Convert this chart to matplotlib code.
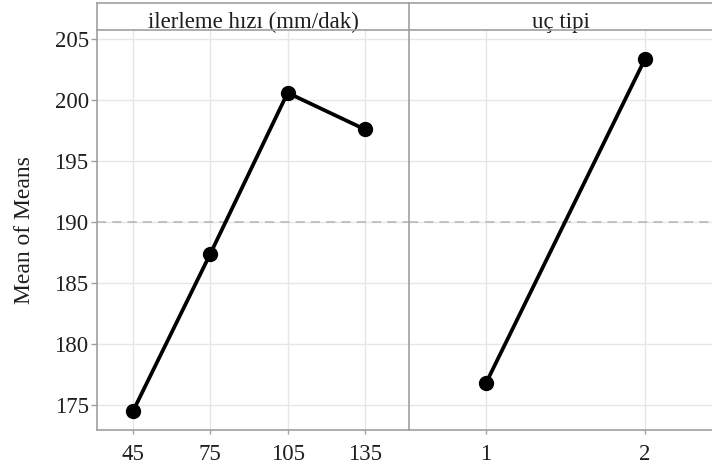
import matplotlib
matplotlib.use('Agg')
from matplotlib import pyplot as plt

# main effects data
feed_labels = ['45', '75', '105', '135']
feed_means = [174.5, 187.4, 200.6, 197.6]
tip_labels = ['1', '2']
tip_means = [176.8, 203.4]
panel_titles = ['ilerleme hızı (mm/dak)', 'uç tipi']

grand_mean = sum(feed_means) / len(feed_means)

plt.rcParams['font.family'] = ['Liberation Serif', 'DejaVu Serif']

W, H = 712, 472
fig = plt.figure(figsize=(W / 100, H / 100), dpi=100)


def px(x0, y0, x1, y1):
    # pixel box -> figure fraction rect
    return [x0 / W, 1 - y1 / H, (x1 - x0) / W, (y1 - y0) / H]


frame_col = '#a0a0a0'
grid_col = '#e6e6e6'
text_col = '#1e1e1e'
fs = 16.5

panels = [
    (px(97, 30, 409, 430), px(97, 3, 409, 30), feed_labels, feed_means, (-0.466, 3.57)),
    (px(409, 30, 712, 430), px(409, 3, 712, 30), tip_labels, tip_means, (0.516 - 1, 1.42)),
]

for i, (rect, hrect, labels, means, xlim) in enumerate(panels):
    ax = fig.add_axes(rect)
    xs = list(range(len(labels)))
    ax.plot(xs, means, color='black', lw=2.7, marker='o', ms=10, zorder=3)
    ax.axhline(grand_mean, color='#b4b4b4', lw=1.1, ls=(0, (6, 4)), zorder=2)
    ax.set_xlim(*xlim)
    ax.set_ylim(172.95, 205.75)
    ax.set_xticks(xs)
    ax.set_xticklabels(labels, fontsize=fs)
    ax.set_yticks([175, 180, 185, 190, 195, 200, 205])
    ax.grid(True, color=grid_col, lw=1.0, zorder=0)
    for side in ['top', 'right']:
        ax.spines[side].set_visible(False)
    for side in ['left', 'bottom']:
        ax.spines[side].set_color(frame_col)
        ax.spines[side].set_linewidth(1.2)
    ax.tick_params(axis='x', length=3, width=1, colors=frame_col, labelcolor=text_col, pad=7)
    if i == 0:
        ax.tick_params(axis='y', labelsize=fs, length=4, width=1, colors=frame_col,
                       labelcolor=text_col, pad=2)
        ax.set_ylabel('Mean of Means', fontsize=17, labelpad=14, color=text_col)
    else:
        ax.tick_params(axis='y', left=False, labelleft=False)

    # header strip, text sits on the bottom line
    hax = fig.add_axes(hrect)
    hax.set_xticks([])
    hax.set_yticks([])
    for side in ['top', 'left', 'bottom']:
        hax.spines[side].set_color(frame_col)
        hax.spines[side].set_linewidth(1.2)
    hax.spines['right'].set_visible(False)
    hax.text(0.5, 0.08, panel_titles[i], ha='center', va='baseline', fontsize=fs,
             color=text_col, transform=hax.transAxes, zorder=0)

fig.savefig('out.png', dpi=100)
